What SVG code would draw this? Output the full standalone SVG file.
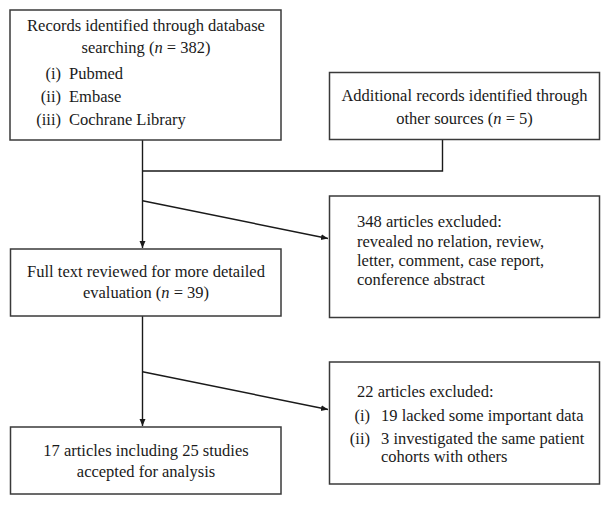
<svg xmlns="http://www.w3.org/2000/svg" width="611" height="506" viewBox="0 0 611 506">
<style>
.box{fill:#fff;stroke:#3a3a3a;stroke-width:1.5}
.t{font-family:"Liberation Serif","Times New Roman",serif;font-size:16.5px;fill:#1a1a1a}
.c{text-anchor:middle}
.r{text-anchor:end}
.ln{fill:none;stroke:#1a1a1a;stroke-width:1.4}
</style>
<defs>
<marker id="ah" markerWidth="8" markerHeight="8" refX="7" refY="4" orient="auto" markerUnits="userSpaceOnUse">
<path d="M0,1 L7,4 L0,7 Z" fill="#1a1a1a"/>
</marker>
</defs>
<rect width="611" height="506" fill="#fff"/>
<g id="connectors">
<line class="ln" x1="142.5" y1="140" x2="142.5" y2="248" marker-end="url(#ah)"/>
<polyline class="ln" points="442.5,140 442.5,171 142.5,171"/>
<line class="ln" x1="142.5" y1="200.7" x2="328" y2="238.5" marker-end="url(#ah)"/>
<line class="ln" x1="142.5" y1="316" x2="142.5" y2="426" marker-end="url(#ah)"/>
<line class="ln" x1="142.5" y1="371.7" x2="328" y2="409.5" marker-end="url(#ah)"/>
</g>
<g id="records-db">
<rect class="box" x="10" y="10" width="271" height="130"/>
<text class="t c" x="146" y="31">Records identified through database</text>
<text class="t c" x="146" y="52.5">searching (<tspan font-style="italic">n</tspan> = 382)</text>
<text class="t r" x="61" y="78.5">(i)</text>
<text class="t" x="69" y="78.5">Pubmed</text>
<text class="t r" x="61" y="102">(ii)</text>
<text class="t" x="69" y="102">Embase</text>
<text class="t r" x="61" y="125">(iii)</text>
<text class="t" x="69" y="125">Cochrane Library</text>
</g>
<g id="records-other">
<rect class="box" x="329.5" y="72.5" width="270" height="67"/>
<text class="t c" x="464.5" y="101">Additional records identified through</text>
<text class="t c" x="464.5" y="123.5">other sources (<tspan font-style="italic">n</tspan> = 5)</text>
</g>
<g id="full-text">
<rect class="box" x="10.5" y="249" width="270.5" height="67"/>
<text class="t c" x="146" y="277">Full text reviewed for more detailed</text>
<text class="t c" x="146" y="297.5">evaluation (<tspan font-style="italic">n</tspan> = 39)</text>
</g>
<g id="excluded-348">
<rect class="box" x="329.5" y="196" width="270" height="121.5"/>
<text class="t" x="357" y="227">348 articles excluded:</text>
<text class="t" x="357" y="246.5">revealed no relation, review,</text>
<text class="t" x="357" y="265.5">letter, comment, case report,</text>
<text class="t" x="357" y="284.5">conference abstract</text>
</g>
<g id="accepted">
<rect class="box" x="10.5" y="427" width="270.5" height="67"/>
<text class="t c" x="146" y="456">17 articles including 25 studies</text>
<text class="t c" x="146" y="477">accepted for analysis</text>
</g>
<g id="excluded-22">
<rect class="box" x="329.5" y="362" width="270" height="122"/>
<text class="t" x="357" y="397">22 articles excluded:</text>
<text class="t r" x="370" y="420.5">(i)</text>
<text class="t" x="381" y="420.5">19 lacked some important data</text>
<text class="t r" x="370" y="443.5">(ii)</text>
<text class="t" x="381" y="443.5">3 investigated the same patient</text>
<text class="t" x="381" y="462">cohorts with others</text>
</g>
</svg>
